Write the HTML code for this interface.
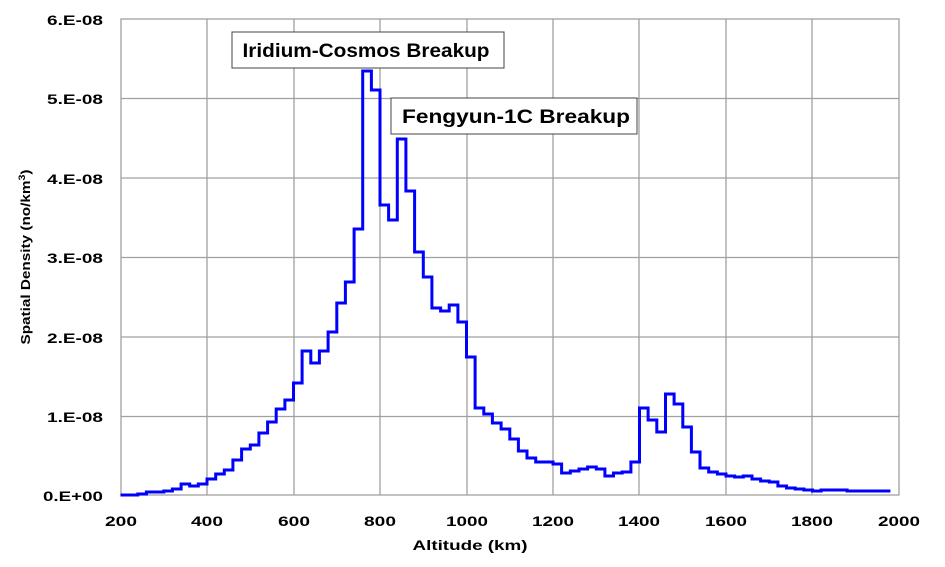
<!DOCTYPE html>
<html><head><meta charset="utf-8"><style>
html,body{margin:0;padding:0;background:#fff;}
svg{display:block;font-family:"Liberation Sans",Arial,sans-serif;font-weight:bold;}
</style></head><body>
<svg id="s" width="945" height="567" viewBox="0 0 945 567" xmlns="http://www.w3.org/2000/svg">
<g stroke="#a0a0a0" stroke-width="1.3" fill="none">
<line x1="207" y1="19" x2="207" y2="495"/><line x1="294" y1="19" x2="294" y2="495"/>
<line x1="380" y1="19" x2="380" y2="495"/><line x1="467" y1="19" x2="467" y2="495"/>
<line x1="553" y1="19" x2="553" y2="495"/><line x1="639" y1="19" x2="639" y2="495"/>
<line x1="726" y1="19" x2="726" y2="495"/><line x1="812" y1="19" x2="812" y2="495"/>
<line x1="121" y1="98.5" x2="899" y2="98.5"/><line x1="121" y1="178" x2="899" y2="178"/>
<line x1="121" y1="257.5" x2="899" y2="257.5"/><line x1="121" y1="337" x2="899" y2="337"/>
<line x1="121" y1="416.5" x2="899" y2="416.5"/>
<rect x="121" y="19" width="778" height="476"/>
</g>
<g font-size="14" text-anchor="end" fill="#000">
<text x="103" y="25" textLength="56" lengthAdjust="spacingAndGlyphs">6.E-08</text>
<text x="103" y="104" textLength="56" lengthAdjust="spacingAndGlyphs">5.E-08</text>
<text x="103" y="184" textLength="56" lengthAdjust="spacingAndGlyphs">4.E-08</text>
<text x="103" y="263" textLength="56" lengthAdjust="spacingAndGlyphs">3.E-08</text>
<text x="103" y="343" textLength="56" lengthAdjust="spacingAndGlyphs">2.E-08</text>
<text x="103" y="422" textLength="56" lengthAdjust="spacingAndGlyphs">1.E-08</text>
<text x="103" y="501" textLength="60" lengthAdjust="spacingAndGlyphs">0.E+00</text>
</g>
<g font-size="14" text-anchor="middle" fill="#000">
<text x="121" y="526" textLength="32" lengthAdjust="spacingAndGlyphs">200</text>
<text x="207" y="526" textLength="32" lengthAdjust="spacingAndGlyphs">400</text>
<text x="294" y="526" textLength="32" lengthAdjust="spacingAndGlyphs">600</text>
<text x="380" y="526" textLength="32" lengthAdjust="spacingAndGlyphs">800</text>
<text x="467" y="526" textLength="42" lengthAdjust="spacingAndGlyphs">1000</text>
<text x="553" y="526" textLength="42" lengthAdjust="spacingAndGlyphs">1200</text>
<text x="639" y="526" textLength="42" lengthAdjust="spacingAndGlyphs">1400</text>
<text x="726" y="526" textLength="42" lengthAdjust="spacingAndGlyphs">1600</text>
<text x="812" y="526" textLength="42" lengthAdjust="spacingAndGlyphs">1800</text>
<text x="899" y="526" textLength="42" lengthAdjust="spacingAndGlyphs">2000</text>
</g>
<text x="470" y="550" font-size="14" text-anchor="middle" textLength="115" lengthAdjust="spacingAndGlyphs">Altitude (km)</text>
<text transform="translate(30,257) rotate(-90)" font-size="13" text-anchor="middle" textLength="175" lengthAdjust="spacingAndGlyphs">Spatial Density (no/km<tspan font-size="9" dy="-5">3</tspan><tspan dy="5">)</tspan></text>
<path id="p" fill="none" stroke="#0000ff" stroke-width="3" stroke-linejoin="miter"/>
<rect x="232" y="32" width="272" height="36" fill="#fff" stroke="#444" stroke-width="1"/>
<text x="366" y="57" font-size="19" text-anchor="middle" textLength="247" lengthAdjust="spacingAndGlyphs">Iridium-Cosmos Breakup</text>
<rect x="391" y="98" width="246" height="36" fill="#fff" stroke="#444" stroke-width="1"/>
<text x="516" y="123" font-size="19" text-anchor="middle" textLength="228" lengthAdjust="spacingAndGlyphs">Fengyun-1C Breakup</text>
</svg>
<script>
var d=[[200,495],[220,495],[240,494],[260,492],[280,492],[300,491],[320,489],[340,484],[360,486],[380,484],[400,479],[420,474],[440,470],[460,460],[480,449],[500,445],[520,433],[540,422],[560,409],[580,400],[600,383],[620,351],[640,363],[660,351],[680,332],[700,303],[720,282],[740,229],[760,71],[780,90],[800,205],[820,220],[840,139],[860,191],[880,252],[900,277],[920,308],[940,311],[960,305],[980,322],[1000,357],[1020,408],[1040,414],[1060,423],[1080,429],[1100,439],[1120,451],[1140,458],[1160,462],[1180,462],[1200,464],[1220,473],[1240,471],[1260,469],[1280,467],[1300,469],[1320,476],[1340,473],[1360,472],[1380,462],[1400,408],[1420,420],[1440,432],[1460,394],[1480,404],[1500,427],[1520,452],[1540,468],[1560,472],[1580,474],[1600,476],[1620,477],[1640,476],[1660,479],[1680,481],[1700,482],[1720,486],[1740,488],[1760,489],[1780,490],[1800,491],[1820,490],[1840,490],[1860,490],[1880,491],[1900,491],[1920,491],[1940,491],[1960,491]];
function X(k){return 120.5+(k-200)*0.4325;}
var s="M"+X(200)+","+d[0][1];
for(var i=0;i<d.length;i++){var y=d[i][1];s+=" L"+X(d[i][0]).toFixed(1)+","+y+" L"+X(d[i][0]+20).toFixed(1)+","+y;}
document.getElementById("p").setAttribute("d",s);
</script>
</body></html>
